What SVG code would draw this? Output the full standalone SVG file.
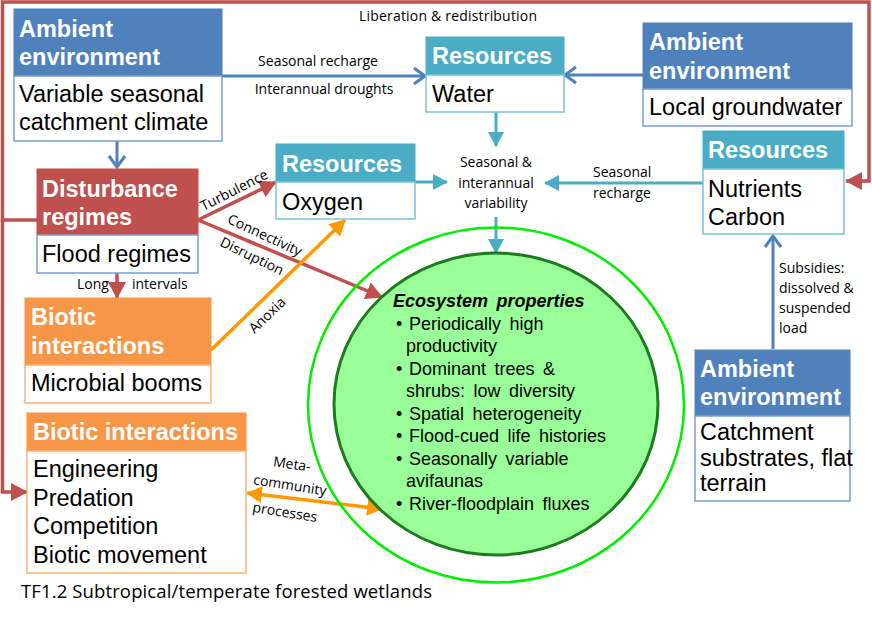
<svg xmlns="http://www.w3.org/2000/svg" width="872" height="617" viewBox="0 0 872 617">
<defs>
<style>
.hd{font-family:"Liberation Sans",Arial,sans-serif;font-weight:bold;font-size:23.5px;fill:#fff}
.bd{font-family:"Liberation Sans",Arial,sans-serif;font-size:23.5px;fill:#000}
.lb{font-family:"Open Sans","Noto Sans",sans-serif;font-size:14px;fill:#000}
.eco{font-family:"Liberation Sans",Arial,sans-serif;font-size:18px;fill:#000;word-spacing:3.5px}
.blueH{fill:#4f81bd;stroke:#4f81bd;stroke-width:1}
.blueB{fill:#fff;stroke:#7b9fd3;stroke-width:1.5}
.tealH{fill:#4bacc6;stroke:#4bacc6;stroke-width:1}
.tealB{fill:#fff;stroke:#7cc3d6;stroke-width:1.5}
.redH{fill:#c0504d;stroke:#c0504d;stroke-width:1}
.orH{fill:#f79646;stroke:#f79646;stroke-width:1}
.orB{fill:#fff;stroke:#f9b27a;stroke-width:1.5}
.cb{fill:none;stroke:#4f81bd;stroke-width:3}
.ct{fill:none;stroke:#4bacc6;stroke-width:3}
.cr{fill:none;stroke:#c0504d;stroke-width:3.5}
.co{fill:none;stroke:#ff9900;stroke-width:3.5}
</style>
<marker id="mBlue" markerUnits="userSpaceOnUse" markerWidth="16" markerHeight="20" viewBox="0 0 16 20" refX="13" refY="10" orient="auto">
<path d="M2,2 L13,10 L2,18" fill="none" stroke="#4f81bd" stroke-width="3"/>
</marker>
<marker id="mTeal" markerUnits="userSpaceOnUse" markerWidth="15" markerHeight="16" viewBox="0 0 15 16" refX="14" refY="8" orient="auto">
<path d="M0,0 L15,8 L0,16 z" fill="#4bacc6"/>
</marker>
<marker id="mRed" markerUnits="userSpaceOnUse" markerWidth="17" markerHeight="18" viewBox="0 0 17 18" refX="16" refY="9" orient="auto">
<path d="M0,0 L17,9 L0,18 z" fill="#c0504d"/>
</marker>
<marker id="mOr" markerUnits="userSpaceOnUse" markerWidth="16" markerHeight="17" viewBox="0 0 16 17" refX="15" refY="8.5" orient="auto">
<path d="M0,0 L16,8.5 L0,17 z" fill="#ff9900"/>
</marker>
<marker id="mOrS" markerUnits="userSpaceOnUse" markerWidth="16" markerHeight="17" viewBox="0 0 16 17" refX="1" refY="8.5" orient="auto">
<path d="M16,0 L0,8.5 L16,17 z" fill="#ff9900"/>
</marker>
</defs>
<rect x="0" y="0" width="872" height="617" fill="#fff"/>

<g id="connectors">
<path class="cr" d="M37,220 H2.5 V2 H869 V181 H846" marker-end="url(#mRed)"/>
<path class="cr" d="M2.5,220 V492 H27" marker-end="url(#mRed)"/>
<line class="cb" x1="222" y1="76" x2="425" y2="76" marker-end="url(#mBlue)"/>
<line class="cb" x1="643" y1="75" x2="565" y2="75" marker-end="url(#mBlue)"/>
<line class="cb" x1="117" y1="141" x2="117" y2="167" marker-end="url(#mBlue)"/>
<line class="cb" x1="773" y1="349" x2="773" y2="236" marker-end="url(#mBlue)"/>
<line class="ct" x1="496" y1="112" x2="496" y2="146" marker-end="url(#mTeal)"/>
<line class="ct" x1="415" y1="182" x2="447" y2="182" marker-end="url(#mTeal)"/>
<line class="ct" x1="703" y1="183" x2="545" y2="183" marker-end="url(#mTeal)"/>
<line class="ct" x1="496" y1="217" x2="496" y2="253" marker-end="url(#mTeal)"/>
<line class="cr" x1="198" y1="220" x2="276" y2="182" marker-end="url(#mRed)"/>
<line class="cr" x1="198" y1="220" x2="382" y2="297" marker-end="url(#mRed)"/>
<line class="cr" x1="117" y1="273" x2="117" y2="298" marker-end="url(#mRed)"/>
<line class="co" x1="211" y1="350" x2="345" y2="220" marker-end="url(#mOr)"/>
<line class="co" x1="247" y1="493" x2="382" y2="509" marker-start="url(#mOrS)" marker-end="url(#mOr)"/>
<text class="lb" x="448" y="21" text-anchor="middle" textLength="178">Liberation &amp; redistribution</text>
<text class="lb" x="318" y="66" text-anchor="middle">Seasonal recharge</text>
<text class="lb" x="324" y="94" text-anchor="middle">Interannual droughts</text>
<text class="lb" x="496" y="167" text-anchor="middle">Seasonal &amp;</text>
<text class="lb" x="496" y="188" text-anchor="middle">interannual</text>
<text class="lb" x="496" y="208" text-anchor="middle">variability</text>
<text class="lb" x="593" y="177">Seasonal</text>
<text class="lb" x="593" y="198">recharge</text>
<text class="lb" x="779" y="273">Subsidies:</text>
<text class="lb" x="779" y="293">dissolved &amp;</text>
<text class="lb" x="779" y="313">suspended</text>
<text class="lb" x="779" y="333">load</text>
<text class="lb" x="77" y="289">Long</text>
<text class="lb" x="132" y="289">intervals</text>
<text class="lb" text-anchor="middle" transform="translate(234,190) rotate(-27)" y="5">Turbulence</text>
<text class="lb" text-anchor="middle" transform="translate(265,235) rotate(25)" y="5">Connectivity</text>
<text class="lb" text-anchor="middle" transform="translate(252,256) rotate(26)" y="5">Disruption</text>
<text class="lb" text-anchor="middle" transform="translate(267,315) rotate(-44)" y="5">Anoxia</text>
<text class="lb" text-anchor="middle" transform="translate(292,464) rotate(8)" y="5">Meta-</text>
<text class="lb" text-anchor="middle" transform="translate(290,485) rotate(9)" y="5">community</text>
<text class="lb" text-anchor="middle" transform="translate(285,512) rotate(9)" y="5">processes</text>
</g>

<g id="ambient-climate">
<rect class="blueH" x="14" y="9" width="208" height="67"/>
<rect class="blueB" x="14" y="76" width="208" height="65"/>
<text class="hd" x="19" y="37">Ambient</text>
<text class="hd" x="19" y="65">environment</text>
<text class="bd" x="19" y="102">Variable seasonal</text>
<text class="bd" x="19" y="130">catchment climate</text>
</g>

<g id="resources-water">
<rect class="tealH" x="426" y="37" width="138" height="38"/>
<rect class="tealB" x="426" y="75" width="138" height="37"/>
<text class="hd" x="432" y="64">Resources</text>
<text class="bd" x="432" y="102">Water</text>
</g>

<g id="ambient-groundwater">
<rect class="blueH" x="643" y="23" width="209" height="66"/>
<rect class="blueB" x="643" y="89" width="209" height="37"/>
<text class="hd" x="649" y="50">Ambient</text>
<text class="hd" x="649" y="79">environment</text>
<text class="bd" x="649" y="115">Local groundwater</text>
</g>

<g id="resources-oxygen">
<rect class="tealH" x="276" y="144" width="139" height="38"/>
<rect class="tealB" x="276" y="182" width="139" height="37"/>
<text class="hd" x="282" y="172">Resources</text>
<text class="bd" x="282" y="210">Oxygen</text>
</g>

<g id="resources-nutrients">
<rect class="tealH" x="703" y="131" width="141" height="38"/>
<rect class="tealB" x="703" y="169" width="141" height="65"/>
<text class="hd" x="708" y="158">Resources</text>
<text class="bd" x="708" y="197">Nutrients</text>
<text class="bd" x="708" y="225">Carbon</text>
</g>

<g id="disturbance">
<rect class="redH" x="37" y="169" width="161" height="66"/>
<rect class="blueB" x="37" y="235" width="161" height="38"/>
<text class="hd" x="42" y="197">Disturbance</text>
<text class="hd" x="42" y="225">regimes</text>
<text class="bd" x="42" y="262">Flood regimes</text>
</g>

<g id="biotic-microbial">
<rect class="orH" x="25" y="298" width="186" height="67"/>
<rect class="orB" x="25" y="365" width="186" height="38"/>
<text class="hd" x="31" y="325">Biotic</text>
<text class="hd" x="31" y="354">interactions</text>
<text class="bd" x="31" y="391">Microbial booms</text>
</g>

<g id="biotic-interactions">
<rect class="orH" x="27" y="413" width="219" height="38"/>
<rect class="orB" x="27" y="451" width="219" height="122"/>
<text class="hd" x="33" y="440">Biotic interactions</text>
<text class="bd" x="33" y="477">Engineering</text>
<text class="bd" x="33" y="506">Predation</text>
<text class="bd" x="33" y="534">Competition</text>
<text class="bd" x="33" y="563">Biotic movement</text>
</g>

<g id="ambient-catchment">
<rect class="blueH" x="695" y="350" width="155" height="66"/>
<rect class="blueB" x="695" y="416" width="155" height="85"/>
<text class="hd" x="700" y="377">Ambient</text>
<text class="hd" x="700" y="405">environment</text>
<text class="bd" x="700" y="440">Catchment</text>
<text class="bd" x="700" y="466">substrates, flat</text>
<text class="bd" x="700" y="491">terrain</text>
</g>

<g id="ecosystem">
<ellipse cx="496" cy="405" rx="188" ry="177.5" fill="none" stroke="#00ee00" stroke-width="2.5"/>
<ellipse cx="496" cy="404" rx="162" ry="151" fill="#99ff99" stroke="#1e7b1e" stroke-width="3"/>
<text class="eco" x="393" y="307" font-weight="bold" font-style="italic">Ecosystem properties</text>
<text class="eco" x="396" y="329.5">•</text><text class="eco" x="409" y="329.5">Periodically high</text>
<text class="eco" x="406" y="352">productivity</text>
<text class="eco" x="396" y="374.5">•</text><text class="eco" x="409" y="374.5">Dominant trees &amp;</text>
<text class="eco" x="406" y="397">shrubs: low diversity</text>
<text class="eco" x="396" y="419.5">•</text><text class="eco" x="409" y="419.5">Spatial heterogeneity</text>
<text class="eco" x="396" y="442">•</text><text class="eco" x="409" y="442">Flood-cued life histories</text>
<text class="eco" x="396" y="464.5">•</text><text class="eco" x="409" y="464.5">Seasonally variable</text>
<text class="eco" x="406" y="487">avifaunas</text>
<text class="eco" x="396" y="509.5">•</text><text class="eco" x="409" y="509.5">River-floodplain fluxes</text>
</g>

<text id="caption" x="21" y="598" font-family="'Open Sans','Noto Sans',sans-serif" font-size="18.5" textLength="411" fill="#000">TF1.2 Subtropical/temperate forested wetlands</text>
</svg>
